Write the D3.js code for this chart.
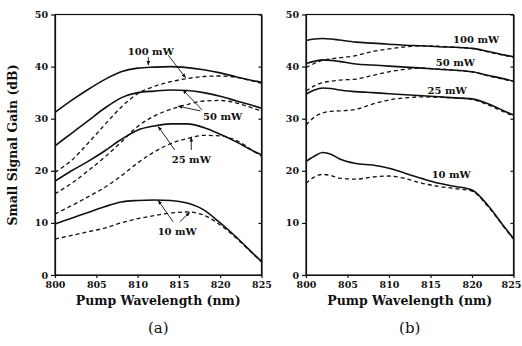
<!DOCTYPE html>
<html>
<head>
<meta charset="utf-8">
<script src="https://cdn.jsdelivr.net/npm/d3@7"></script>
<style>
  body { margin: 0; background: #fff; }
  svg { display: block; }
  .tick text { font-family: "DejaVu Serif", serif; font-weight: bold; font-size: 9.5px; fill: #111; }
  .axis path, .axis line { stroke: #111; stroke-width: 1.2; }
  .line { fill: none; stroke: #111; }
  .solid { stroke-width: 1.6; }
  .dashed { stroke-width: 1.3; stroke-dasharray: 4,3; }
  .label { font-family: "DejaVu Serif", serif; font-weight: bold; font-size: 10px; fill: #111; }
  .title { font-family: "DejaVu Serif", serif; font-weight: bold; font-size: 12.5px; fill: #111; }
  .panel { font-family: "DejaVu Serif", serif; font-size: 15px; fill: #111; }
</style>
</head>
<body>
<script>
// panel (a)
let waveA = [800, 802, 804, 806, 808, 810, 812, 814, 816, 818, 820, 822, 824, 825];
let a100Solid = [31.2, 33.5, 35.6, 37.5, 39.0, 39.7, 39.9, 40.0, 39.8, 39.4, 38.8, 38.0, 37.3, 37.0];
let a100Dash  = [19.7, 22.0, 25.3, 28.8, 32.2, 34.8, 36.2, 37.1, 37.7, 38.1, 38.2, 37.9, 37.2, 36.8];
let a50Solid  = [24.8, 27.2, 29.6, 32.0, 34.0, 35.0, 35.3, 35.5, 35.4, 35.0, 34.3, 33.4, 32.5, 32.0];
let a50Dash   = [15.6, 17.6, 20.0, 22.6, 25.5, 28.5, 30.5, 31.8, 32.7, 33.4, 33.5, 33.0, 32.0, 31.5];
let a25Solid  = [18.0, 20.0, 21.8, 23.8, 26.0, 27.8, 28.6, 29.0, 29.0, 28.3, 27.0, 25.5, 23.8, 23.1];
let a25Dash   = [11.7, 13.3, 15.0, 16.8, 19.0, 21.5, 23.6, 25.2, 26.2, 26.8, 26.7, 25.8, 23.8, 22.8];
let a10Solid  = [9.8, 10.9, 12.0, 13.1, 14.0, 14.3, 14.4, 14.3, 13.8, 12.5, 10.0, 7.2, 4.1, 2.6];
let a10Dash   = [6.9, 7.6, 8.3, 9.0, 10.0, 10.8, 11.4, 11.9, 12.1, 11.5, 9.6, 7.0, 4.0, 2.5];

// panel (b)
let waveB = [800, 801, 802, 803, 804, 806, 808, 810, 812, 814, 816, 818, 820, 822, 824, 825];
let b100Solid = [45.0, 45.3, 45.4, 45.3, 45.1, 44.7, 44.5, 44.3, 44.1, 44.0, 43.8, 43.7, 43.5, 42.9, 42.2, 41.9];
let b100Dash  = [39.8, 40.6, 41.2, 41.5, 41.7, 42.1, 42.9, 43.4, 43.8, 44.0, 43.9, 43.7, 43.5, 42.8, 42.1, 41.8];
let b50Solid  = [40.6, 41.0, 41.3, 41.2, 41.0, 40.5, 40.3, 40.1, 39.9, 39.7, 39.5, 39.3, 39.0, 38.3, 37.6, 37.2];
let b50Dash   = [35.3, 36.3, 36.9, 37.2, 37.4, 37.6, 38.3, 39.0, 39.5, 39.7, 39.5, 39.3, 39.0, 38.2, 37.5, 37.1];
let b25Solid  = [34.7, 35.5, 35.9, 35.8, 35.5, 35.2, 35.0, 34.8, 34.6, 34.4, 34.2, 34.0, 33.8, 32.8, 31.4, 30.7];
let b25Dash   = [28.8, 30.3, 31.1, 31.4, 31.5, 31.8, 32.8, 33.6, 34.0, 34.2, 34.1, 34.0, 33.7, 32.6, 31.2, 30.5];
let b10Solid  = [21.8, 22.8, 23.5, 23.2, 22.3, 21.4, 21.1, 20.5, 19.5, 18.5, 17.6, 17.0, 16.3, 13.2, 9.0, 7.0];
let b10Dash   = [17.6, 18.8, 19.3, 19.1, 18.6, 18.4, 18.8, 19.0, 18.5, 17.6, 17.0, 16.6, 16.1, 13.0, 8.9, 6.9];

let xTicks = [800, 805, 810, 815, 820, 825];
let yTicks = [0, 10, 20, 30, 40, 50];

// labels: [text, wavelength, gain]
let labelsA = [["100 mW", 811.6, 42.2], ["50 mW", 820.3, 29.8], ["25 mW", 816.5, 21.5], ["10 mW", 814.8, 7.7]];
let labelsB = [["100 mW", 820.5, 44.5], ["50 mW", 818.0, 40.1], ["25 mW", 817.0, 34.7], ["10 mW", 817.5, 18.6]];
// arrows: [fromWl, fromGain, toWl, toGain]
let arrowsA = [
  [811.3, 41.8, 811.3, 40.3], [813.7, 42.2, 815.8, 37.9],
  [817.8, 31.7, 815.5, 35.5], [817.6, 31.5, 814.9, 32.4],
  [814.5, 24.0, 812.5, 28.5], [816.5, 24.0, 816.5, 26.4],
  [814.3, 10.2, 812.5, 14.3], [815.1, 10.2, 816.3, 12.0]
];

let W = 522, H = 346;
let svg = d3.select('body').append('svg').attr('width', W).attr('height', H);

svg.append('defs').append('marker')
  .attr('id', 'arrow').attr('viewBox', '0 0 10 10').attr('refX', 9).attr('refY', 5)
  .attr('markerWidth', 5).attr('markerHeight', 5).attr('orient', 'auto')
  .append('path').attr('d', 'M0,1 L10,5 L0,9 z').attr('fill', '#111');

function drawPanel(left, right, wave, series, labels, arrows, panelName){
  let x = d3.scaleLinear().domain([800, 825]).range([left, right]);
  let y = d3.scaleLinear().domain([0, 50]).range([275, 14.5]);
  let g = svg.append('g');

  // frame
  g.append('rect').attr('x', left).attr('y', y(50)).attr('width', right - left).attr('height', y(0) - y(50))
    .attr('fill', 'none').attr('stroke', '#111').attr('stroke-width', 1.2);

  let xAxis = d3.axisBottom(x).tickValues(xTicks).tickSizeInner(3).tickSizeOuter(0).tickPadding(3);
  let yAxis = d3.axisLeft(y).tickValues(yTicks).tickSizeInner(4).tickSizeOuter(0).tickPadding(3);
  let gx = g.append('g').attr('class', 'axis').attr('transform', 'translate(0,' + y(0) + ')').call(xAxis);
  // keep the last label inside the window
  gx.selectAll('.tick text').filter(function(d){ return d == 825; }).attr('dx', right > 500 ? -2.5 : 0);
  g.append('g').attr('class', 'axis').attr('transform', 'translate(' + left + ',0)').call(yAxis);
  // inner ticks on right side
  g.append('g').attr('class', 'axis').attr('transform', 'translate(' + right + ',0)')
    .call(d3.axisRight(y).tickValues(yTicks).tickSizeInner(-3).tickSizeOuter(0).tickFormat(''));

  let line = d3.line()
    .x(function(d, i){ return x(wave[i]); })
    .y(function(d){ return y(d); })
    .curve(d3.curveMonotoneX);

  series.forEach(function(s){
    g.append('path').datum(s.values).attr('class', 'line ' + s.style).attr('d', line);
  });

  labels.forEach(function(l){
    g.append('text').attr('class', 'label').attr('x', x(l[1])).attr('y', y(l[2]))
      .attr('text-anchor', 'middle').text(l[0]);
  });

  arrows.forEach(function(a){
    g.append('line').attr('x1', x(a[0])).attr('y1', y(a[1])).attr('x2', x(a[2])).attr('y2', y(a[3]))
      .attr('stroke', '#111').attr('stroke-width', 0.9).attr('marker-end', 'url(#arrow)');
  });

  let mid = (left + right) / 2;
  g.append('text').attr('class', 'title').attr('x', mid).attr('y', 305).attr('text-anchor', 'middle')
    .text('Pump Wavelength (nm)');
  g.append('text').attr('class', 'panel').attr('x', mid).attr('y', 333).attr('text-anchor', 'middle')
    .text(panelName);
}

drawPanel(55, 261.5, waveA, [
  {values: a100Solid, style: 'solid'}, {values: a100Dash, style: 'dashed'},
  {values: a50Solid, style: 'solid'}, {values: a50Dash, style: 'dashed'},
  {values: a25Solid, style: 'solid'}, {values: a25Dash, style: 'dashed'},
  {values: a10Solid, style: 'solid'}, {values: a10Dash, style: 'dashed'}
], labelsA, arrowsA, '(a)');

drawPanel(306, 513.5, waveB, [
  {values: b100Solid, style: 'solid'}, {values: b100Dash, style: 'dashed'},
  {values: b50Solid, style: 'solid'}, {values: b50Dash, style: 'dashed'},
  {values: b25Solid, style: 'solid'}, {values: b25Dash, style: 'dashed'},
  {values: b10Solid, style: 'solid'}, {values: b10Dash, style: 'dashed'}
], labelsB, [], '(b)');

svg.append('text').attr('class', 'title')
  .attr('transform', 'translate(17,' + 145 + ') rotate(-90)')
  .attr('text-anchor', 'middle')
  .text('Small Signal Gain (dB)');
</script>
</body>
</html>
